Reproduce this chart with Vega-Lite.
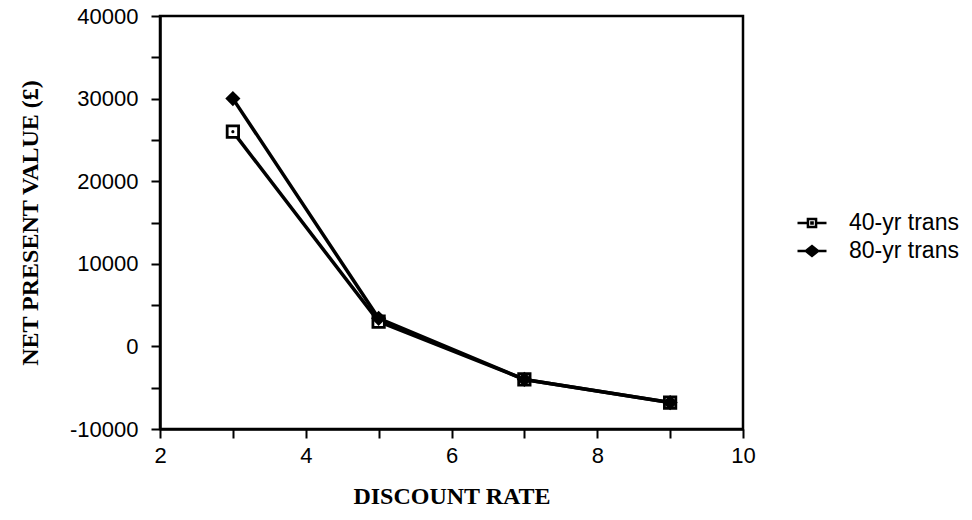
{
  "$schema": "https://vega.github.io/schema/vega-lite/v6.json",
  "width": 583,
  "height": 413,
  "autosize": {"type": "none"},
  "padding": {"left": 160, "top": 16, "right": 229, "bottom": 91},
  "background": "white",
  "config": {
    "view": {"stroke": "black", "strokeWidth": 2.5},
    "axis": {
      "grid": false,
      "domainColor": "black",
      "domainWidth": 2.5,
      "tickColor": "black",
      "tickWidth": 2,
      "tickSize": 9,
      "labelFont": "Liberation Sans",
      "labelFontSize": 22,
      "labelColor": "black",
      "labelFlush": false,
      "labelOverlap": false,
      "titleFont": "Liberation Serif",
      "titleFontWeight": "bold",
      "titleFontSize": 24,
      "titleColor": "black"
    }
  },
  "data": {
    "values": [
      {"series": "40-yr trans", "rate": 3, "npv": 26000},
      {"series": "40-yr trans", "rate": 5, "npv": 3000},
      {"series": "40-yr trans", "rate": 7, "npv": -4000},
      {"series": "40-yr trans", "rate": 9, "npv": -6800},
      {"series": "80-yr trans", "rate": 3, "npv": 30000},
      {"series": "80-yr trans", "rate": 5, "npv": 3400},
      {"series": "80-yr trans", "rate": 7, "npv": -4000},
      {"series": "80-yr trans", "rate": 9, "npv": -6800}
    ]
  },
  "encoding": {
    "x": {
      "field": "rate",
      "type": "quantitative",
      "scale": {"domain": [2, 10], "nice": false, "zero": false},
      "axis": {
        "title": "DISCOUNT RATE",
        "values": [2, 3, 4, 5, 6, 7, 8, 9, 10],
        "labelExpr": "datum.value % 2 === 0 ? '' + datum.value : ''",
        "labelPadding": 7,
        "titlePadding": 18
      }
    },
    "y": {
      "field": "npv",
      "type": "quantitative",
      "scale": {"domain": [-10000, 40000], "nice": false, "zero": false},
      "axis": {
        "title": "NET PRESENT VALUE (£)",
        "values": [-10000, -5000, 0, 5000, 10000, 15000, 20000, 25000, 30000, 35000, 40000],
        "labelExpr": "datum.value % 10000 === 0 ? '' + datum.value : ''",
        "labelPadding": 13,
        "titlePadding": 27
      }
    }
  },
  "layer": [
    {
      "mark": {"type": "line", "color": "black", "strokeWidth": 3.5},
      "encoding": {"detail": {"field": "series"}}
    },
    {
      "transform": [{"filter": "datum.series === '40-yr trans'"}],
      "mark": {"type": "point", "shape": "square", "size": 130, "filled": true, "fill": "white", "stroke": "black", "strokeWidth": 2.8, "opacity": 1}
    },
    {
      "transform": [{"filter": "datum.series === '40-yr trans'"}],
      "mark": {"type": "point", "shape": "circle", "size": 10, "filled": true, "color": "black", "opacity": 1}
    },
    {
      "transform": [{"filter": "datum.series === '80-yr trans'"}],
      "mark": {"type": "point", "shape": "diamond", "size": 230, "filled": true, "color": "black", "opacity": 1}
    },
    {
      "transform": [{"filter": "datum.rate < 0"}],
      "mark": {"type": "point", "filled": true, "stroke": "black", "strokeWidth": 2.5, "opacity": 1},
      "encoding": {
        "shape": {
          "field": "series",
          "type": "nominal",
          "scale": {
            "domain": ["40-yr trans", "80-yr trans"],
            "range": [
              "M-1,0H-0.3M0.3,0H1M-0.28,-0.28H0.28V0.28H-0.28ZM-0.04,-0.04H0.04V0.04H-0.04Z",
              "M-1,0H1M-0.42,0L0,-0.34L0.42,0L0,0.34Z"
            ]
          },
          "legend": {
            "title": null,
            "orient": "none",
            "legendX": 636,
            "legendY": 191,
            "padding": 0,
            "rowPadding": 0,
            "symbolSize": 841,
            "symbolStrokeColor": "black",
            "symbolStrokeWidth": 2.5,
            "symbolOpacity": 1,
            "labelFont": "Liberation Sans",
            "labelFontSize": 23,
            "labelColor": "black",
            "labelOffset": 21,
            "encode": {
              "symbols": {
                "update": {
                  "stroke": {"value": "black"},
                  "strokeWidth": {"value": 2.5},
                  "size": {"value": 841},
                  "opacity": {"value": 1}
                }
              }
            }
          }
        },
        "fill": {
          "field": "series",
          "type": "nominal",
          "scale": {"domain": ["40-yr trans", "80-yr trans"], "range": ["white", "black"]},
          "legend": {
            "title": null,
            "orient": "none",
            "legendX": 636,
            "legendY": 191,
            "padding": 0,
            "rowPadding": 0,
            "symbolSize": 841,
            "symbolStrokeColor": "black",
            "symbolStrokeWidth": 2.5,
            "symbolOpacity": 1,
            "labelFont": "Liberation Sans",
            "labelFontSize": 23,
            "labelColor": "black",
            "labelOffset": 21,
            "encode": {
              "symbols": {
                "update": {
                  "stroke": {"value": "black"},
                  "strokeWidth": {"value": 2.5},
                  "size": {"value": 841},
                  "opacity": {"value": 1}
                }
              }
            }
          }
        }
      }
    }
  ]
}
